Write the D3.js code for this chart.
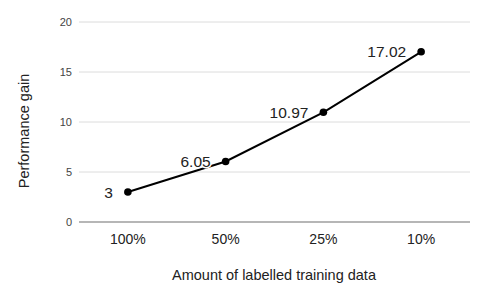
<!DOCTYPE html>
<html><head><meta charset="utf-8">
<script src="https://cdn.jsdelivr.net/npm/d3@7"></script>
<style>body{margin:0;background:#fff;font-family:Arial,"Liberation Sans",sans-serif;}</style>
</head><body><svg id="c" width="485" height="300"></svg>
<script>
const categories = ["100%", "50%", "25%", "10%"];
const values = [3, 6.05, 10.97, 17.02];
const yTicks = [0, 5, 10, 15, 20];
const xTitle = "Amount of labelled training data";
const yTitle = "Performance gain";

const svg = d3.select("#c");
const m = {l:79, r:15, t:22, b:78};
const W = 485, H = 300;
const x = d3.scaleBand().domain(categories).range([m.l, W - m.r]);
const y = d3.scaleLinear().domain([0, 20]).range([H - m.b, m.t]);

// gridlines
svg.append("g").selectAll("line").data(yTicks.filter(d => d > 0)).join("line")
  .attr("x1", m.l).attr("x2", W - m.r)
  .attr("y1", d => y(d)).attr("y2", d => y(d))
  .attr("stroke", "#dcdcdc").attr("stroke-width", 1);

// y axis
const ya = svg.append("g").attr("transform", `translate(${m.l},0)`)
  .call(d3.axisLeft(y).tickValues(yTicks).tickSize(0).tickPadding(7));
ya.select(".domain").remove();
ya.selectAll("text").attr("font-family", "Arial, 'Liberation Sans', sans-serif")
  .attr("font-size", 11).attr("fill", "#444");

// baseline
svg.append("line").attr("x1", m.l).attr("x2", W - m.r)
  .attr("y1", y(0)).attr("y2", y(0)).attr("stroke", "#9e9e9e").attr("stroke-width", 1.5);

// x axis
const xa = svg.append("g").attr("transform", `translate(0,${y(0)})`)
  .call(d3.axisBottom(x).tickSize(0).tickPadding(12));
xa.select(".domain").remove();
xa.selectAll("text").attr("font-family", "Arial, 'Liberation Sans', sans-serif")
  .attr("font-size", 14).attr("fill", "#222");

// line
const pts = categories.map((c, i) => [x(c) + x.bandwidth() / 2, y(values[i])]);
svg.append("path").datum(pts).attr("d", d3.line())
  .attr("fill", "none").attr("stroke", "#000").attr("stroke-width", 2);

// labels
svg.append("g").selectAll("text").data(categories).join("text")
  .attr("x", (c) => x(c) + x.bandwidth() / 2 - 15)
  .attr("y", (c, i) => y(values[i]))
  .attr("dy", "0.36em")
  .attr("text-anchor", "end")
  .attr("font-size", 15.5).attr("fill", "#222")
  .attr("stroke", "#fff").attr("stroke-width", 3).attr("paint-order", "stroke")
  .text((c, i) => values[i]);

// dots
svg.append("g").selectAll("circle").data(pts).join("circle")
  .attr("cx", d => d[0]).attr("cy", d => d[1]).attr("r", 3.8).attr("fill", "#000");

// titles
svg.append("text").attr("x", 274).attr("y", 280)
  .attr("text-anchor", "middle").attr("font-size", 14.5).attr("fill", "#222").text(xTitle);
svg.append("text").attr("transform", `translate(29,${131}) rotate(-90)`)
  .attr("text-anchor", "middle").attr("font-size", 14.5).attr("fill", "#222").text(yTitle);
</script></body></html>
